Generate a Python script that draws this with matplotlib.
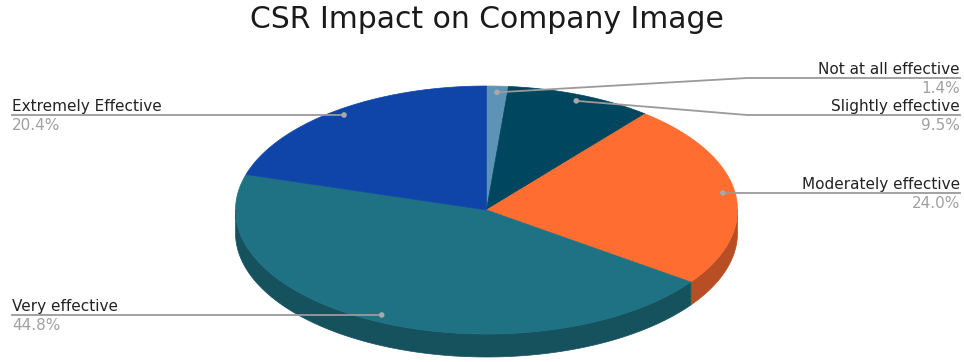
import numpy as np
import matplotlib
matplotlib.use("Agg")
import matplotlib.pyplot as plt
from matplotlib.patches import Polygon, Circle
from matplotlib.colors import to_rgb

plt.rcParams['font.family'] = ['DejaVu Sans']

# Survey responses (share of respondents, %)
categories = ["Not at all effective", "Slightly effective", "Moderately effective",
              "Very effective", "Extremely Effective"]
shares = [1.4, 9.5, 24.0, 44.8, 20.4]
colors = ["#5d94b6", "#00465f", "#ff6d30", "#1f7283", "#0f45a8"]
title = "CSR Impact on Company Image"

# Label placement: which side of the pie and the y of the leader line
label_side = ["right", "right", "right", "left", "left"]
label_line_y = [78, 115, 193, 315, 115]

W, H = 964, 362
fig = plt.figure(figsize=(W / 100, H / 100), dpi=100)
ax = fig.add_axes([0, 0, 1, 1])
ax.set_xlim(0, W)
ax.set_ylim(H, 0)
ax.axis("off")

# Elliptical (tilted) pie geometry in pixel units
cx, cy = 486.5, 210.0
rx, ry = 251.0, 124.0
depth = 23.0
shade = 0.72


def pt(theta_deg, r=1.0, dz=0.0):
    t = np.radians(theta_deg)
    return cx + r * rx * np.cos(t), cy - r * ry * np.sin(t) + dz


total = sum(shares)
fracs = [s / total for s in shares]
bounds = []
cum = 0.0
for f in fracs:
    start = 90 - cum * 360
    end = 90 - (cum + f) * 360
    bounds.append((end, start))
    cum += f

# Side walls (only the front half of the disc is visible)
for (a, b), col in zip(bounds, colors):
    for lo, hi in [(-180, 0), (180, 360), (-540, -360)]:
        s, e = max(a, lo), min(b, hi)
        if e <= s:
            continue
        th = np.linspace(s, e, 120)
        xs, ys = pt(th)
        top = np.column_stack([xs, ys])
        bot = np.column_stack([xs[::-1], ys[::-1] + depth])
        side_col = tuple(c * shade for c in to_rgb(col))
        ax.add_patch(Polygon(np.vstack([top, bot]), closed=True, fc=side_col,
                             ec=side_col, lw=0.5, zorder=1))

# Top faces
for (a, b), col in zip(bounds, colors):
    th = np.linspace(a, b, 200)
    xs, ys = pt(th)
    verts = np.vstack([[cx, cy], np.column_stack([xs, ys])])
    ax.add_patch(Polygon(verts, closed=True, fc=col, ec=col, lw=0.5, zorder=2))

# Leader lines, dots and labels
line_col = "#9a9a9a"
lab_size = 11
for (a, b), name, val, side, ly in zip(bounds, categories, shares, label_side, label_line_y):
    mid = (a + b) / 2
    dx, dy = pt(mid, 0.95)
    bent = side == "right" and abs(dy - ly) > 3
    if side == "right":
        x_end, ha = 960, "right"
        if bent:
            ax.plot([dx, 747, x_end], [dy, ly, ly], color=line_col, lw=1.3, zorder=3)
        else:
            ax.plot([dx, x_end], [ly, ly], color=line_col, lw=1.3, zorder=3)
    else:
        x_end, ha = 12, "left"
        ax.plot([dx, x_end], [ly, ly], color=line_col, lw=1.3, zorder=3)
    ax.text(x_end, ly - 4, name, ha=ha, va="baseline", fontsize=lab_size,
            color="#222222", zorder=4)
    ax.text(x_end, ly + 15, f"{val:.1f}%", ha=ha, va="baseline", fontsize=lab_size,
            color="#a0a0a0", zorder=4)
    ax.add_patch(Circle((dx, dy if bent else ly), 2.8, fc="#a8a8a8", ec="none", zorder=5))

ax.text(487, 28, title, ha="center", va="baseline", fontsize=21.5, color="#1a1a1a")

fig.savefig("out.png", dpi=100)
